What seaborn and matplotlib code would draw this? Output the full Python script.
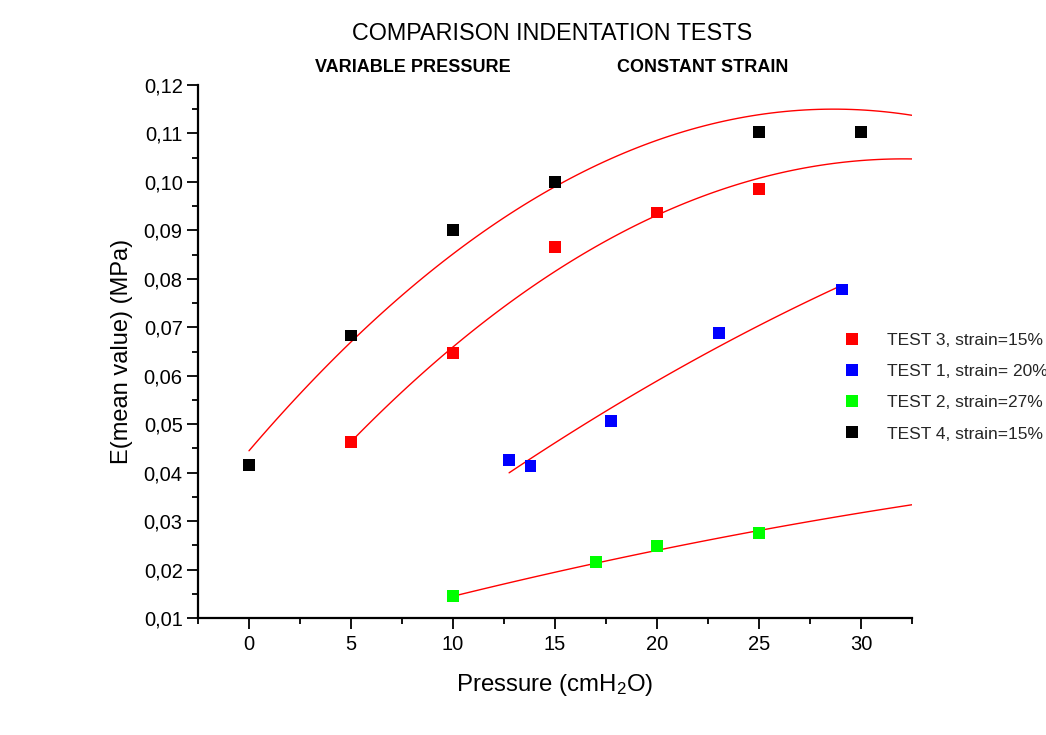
import numpy as np
import pandas as pd
import matplotlib
matplotlib.use("Agg")
import matplotlib.pyplot as plt
from matplotlib.ticker import MultipleLocator, FuncFormatter
import seaborn as sns

# ---- data ----
test3_x = [5, 10, 15, 20, 25]
test3_y = [0.0463, 0.0647, 0.0865, 0.0937, 0.0985]
test1_x = [12.75, 13.8, 17.75, 23.05, 29.05]
test1_y = [0.0426, 0.0414, 0.0507, 0.0688, 0.0778]
test2_x = [10, 17, 20, 25]
test2_y = [0.0145, 0.0215, 0.0249, 0.0275]
test4_x = [0, 5, 10, 15, 25, 30]
test4_y = [0.0415, 0.0683, 0.0901, 0.1000, 0.1103, 0.1103]

# fitted curves (red lines)
fit4_x = [0, 2.5, 5, 7.5, 10, 12.5, 15, 17.5, 20, 22.5, 25, 27.5, 30, 32.5]
fit4_y = [0.0445, 0.0563, 0.0670, 0.0766, 0.0851, 0.0926, 0.0990, 0.1043,
          0.1086, 0.1118, 0.1139, 0.1149, 0.1149, 0.1137]
fit3_x = [5, 7.5, 10, 12.5, 15, 17.5, 20, 22.5, 25, 27.5, 30, 32.5]
fit3_y = [0.0464, 0.0567, 0.0659, 0.0742, 0.0815, 0.0878, 0.0931, 0.0975,
          0.1008, 0.1031, 0.1044, 0.1047]
fit1_x = [12.75, 15, 17.5, 20, 22.5, 25, 27.5, 29.1]
fit1_y = [0.0400, 0.0461, 0.0527, 0.0589, 0.0648, 0.0704, 0.0756, 0.0787]
fit2_x = [10, 12.5, 15, 17.5, 20, 22.5, 25, 27.5, 30, 32.5]
fit2_y = [0.0145, 0.0170, 0.0194, 0.0218, 0.0240, 0.0261, 0.0280, 0.0299,
          0.0317, 0.0334]

labels = ["TEST 3, strain=15%", "TEST 1, strain= 20%",
          "TEST 2, strain=27%", "TEST 4, strain=15%"]
colors = ["#ff0000", "#0000ff", "#00ff00", "#000000"]

pts = pd.concat([
    pd.DataFrame({"x": test3_x, "y": test3_y, "test": labels[0]}),
    pd.DataFrame({"x": test1_x, "y": test1_y, "test": labels[1]}),
    pd.DataFrame({"x": test2_x, "y": test2_y, "test": labels[2]}),
    pd.DataFrame({"x": test4_x, "y": test4_y, "test": labels[3]}),
], ignore_index=True)

fit_sets = [(fit3_x, fit3_y), (fit1_x, fit1_y), (fit2_x, fit2_y), (fit4_x, fit4_y)]

sns.set_theme(style="ticks")
plt.rcParams["font.family"] = ["Liberation Sans", "DejaVu Sans"]
plt.rcParams["mathtext.fontset"] = "custom"
plt.rcParams["mathtext.rm"] = "Liberation Sans"
plt.rcParams["mathtext.it"] = "Liberation Sans"

fig = plt.figure(figsize=(10.46, 7.35), dpi=100)
fig.patch.set_facecolor("white")
ax = fig.add_axes([198/1046, 1 - 618/735, (912-198)/1046, (618-85)/735])
ax.set_facecolor("white")
ax.set_xlim(-2.5, 32.5)
ax.set_ylim(0.01, 0.12)

# smooth quadratic fit lines through the sampled curve points
for fx, fy in fit_sets:
    sns.regplot(x=np.array(fx), y=np.array(fy), order=2, ci=None, scatter=False,
                truncate=True, color="#ff0000", line_kws={"linewidth": 1.0},
                ax=ax)

sns.scatterplot(data=pts, x="x", y="y", hue="test", hue_order=labels,
                palette=colors, marker="s", s=72, linewidth=0, ax=ax,
                zorder=3, clip_on=False)

ax.set_xlim(-2.5, 32.5)
ax.set_ylim(0.01, 0.12)
ax.xaxis.set_major_locator(MultipleLocator(5))
ax.xaxis.set_minor_locator(MultipleLocator(2.5))
ax.yaxis.set_major_locator(MultipleLocator(0.01))
ax.yaxis.set_minor_locator(MultipleLocator(0.005))
ax.yaxis.set_major_formatter(FuncFormatter(lambda v, p: f"{v:.2f}".replace(".", ",")))
ax.xaxis.set_major_formatter(FuncFormatter(lambda v, p: f"{v:.0f}"))

for s in ["top", "right"]:
    ax.spines[s].set_visible(False)
for s in ["left", "bottom"]:
    ax.spines[s].set_linewidth(1.6)
    ax.spines[s].set_color("black")
ax.tick_params(which="major", length=8, width=1.3, color="black",
               labelsize=14.5, labelcolor="black")
ax.tick_params(which="minor", length=4.5, width=1.3, color="black")
ax.tick_params(axis="y", which="major", pad=3)
ax.tick_params(axis="x", which="major", pad=4)

ax.set_xlabel("Pressure (cmH$_2$O)", fontsize=17.3, labelpad=13, color="black")
ax.set_ylabel("E(mean value) (MPa)", fontsize=17, labelpad=8, color="black")

fig.text(552/1046, 1 - 33/735, "COMPARISON INDENTATION TESTS", fontsize=16.8,
         ha="center", va="center", color="black")
fig.text(315/1046, 1 - 67/735, "VARIABLE PRESSURE", fontsize=13, fontweight="bold",
         ha="left", va="center", color="black")
fig.text(617/1046, 1 - 67/735, "CONSTANT STRAIN", fontsize=13, fontweight="bold",
         ha="left", va="center", color="black")

handles, labs = ax.get_legend_handles_labels()
ax.legend(handles, labs, loc="upper left", bbox_to_anchor=(835/1046, 1 - 333/735),
          bbox_transform=fig.transFigure, frameon=False, fontsize=12.5,
          borderpad=0, handletextpad=1.0, labelspacing=0.92, borderaxespad=0,
          markerscale=1.0)

fig.savefig("out.png", dpi=100, facecolor="white")
